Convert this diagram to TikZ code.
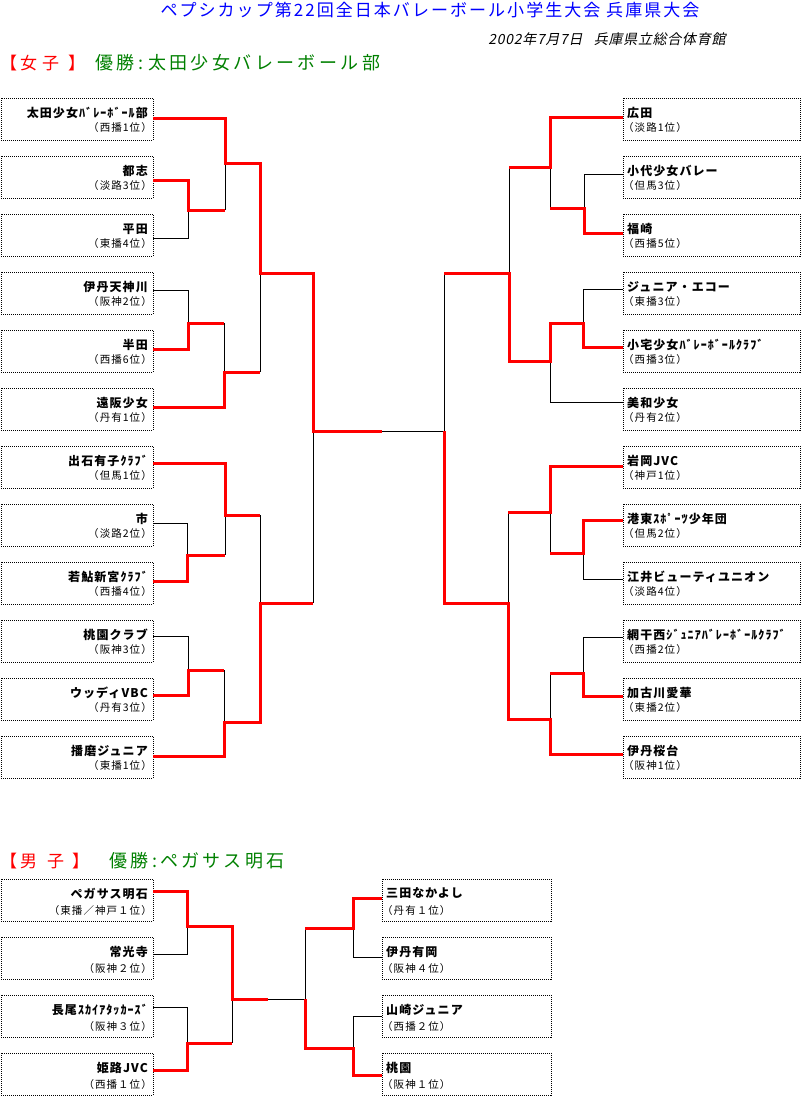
\documentclass[tikz,border=0pt]{standalone}
\usepackage{fontspec}
\setmainfont{Noto Sans CJK JP}
\newfontfamily\fname{Noto Sans CJK JP}[LetterSpace=9]
\newfontfamily\freg{Noto Sans CJK JP}[LetterSpace=10]
\newfontfamily\ftitle{Noto Sans CJK JP}[LetterSpace=12]
\newfontfamily\fsub{Noto Sans CJK JP}[FakeSlant=0.2,LetterSpace=5]
\newfontfamily\fhead{Noto Sans CJK JP}[LetterSpace=19]
\definecolor{wred}{RGB}{255,0,0}
\definecolor{tblue}{RGB}{0,0,255}
\definecolor{tgreen}{RGB}{0,128,0}
\tikzset{
  teambox/.style={draw=black, line width=1pt, dash pattern=on 1pt off 1pt, minimum height=42pt, inner sep=0pt, outer sep=0pt, anchor=north west},
  tname/.style={inner sep=0pt, font=\fname\bfseries\fontsize{12}{14}\selectfont},
  treg/.style={inner sep=0pt, font=\freg\fontsize{10.5}{12}\selectfont},
  win/.style={draw=wred, line width=3pt, line join=miter},
  lose/.style={draw=black, line width=1pt},
  headred/.style={inner sep=0pt, anchor=west, text=wred, font=\fontsize{17}{19}\selectfont},
  headgreen/.style={inner sep=0pt, anchor=west, text=tgreen, font=\fhead\fontsize{18}{20}\selectfont},
}
\def\ny{15}\def\ry{29.5}
\newcommand\teamL[4]{% id, top, name, region
  \node[teambox, minimum width=152pt] (#1) at (1,#2) {};
  \node[tname, anchor=east] (#1n) at ([xshift=-5pt,yshift=-\ny pt]#1.north east) {#3};
  \node[treg, anchor=east] (#1r) at ([xshift=-1pt,yshift=-\ry pt]#1.north east) {#4};}
\newcommand\teamR[5]{% id, x, top, width, name
  \node[teambox, minimum width=#4pt] (#1) at (#2,#3) {};
  \node[tname, anchor=west] (#1n) at ([xshift=4pt,yshift=-\ny pt]#1.north west) {#5};}
\newcommand\regR[2]{\node[treg, anchor=west] (#1r) at ([xshift=0pt,yshift=-\ry pt]#1.north west) {#2};}
\begin{document}
\begin{tikzpicture}[x=1pt,y=-1pt]
\useasboundingbox (0,0) rectangle (801,1096);
% titles
\node[inner sep=0pt, text=tblue, font=\ftitle\fontsize{17}{19}\selectfont] (title) at (430,10) {ペプシカップ第22回全日本バレーボール小学生大会 兵庫県大会};
\node[inner sep=0pt, font=\fsub\fontsize{14}{16}\selectfont] (sub) at (607,39) {2002年7月7日\hspace{0.8em}兵庫県立総合体育館};
\node[headred] (hw) at (0,63) {【\hspace{3pt}女\hspace{5pt}子\hspace{9pt}】};
\node[headgreen] (ww) at (95,63) {優勝:\hspace{5pt}太田少女バレーボール部};
\node[headred] (hm) at (0,861) {【\hspace{3pt}男\hspace{10pt}子\hspace{8pt}】};
\node[headgreen] (wm) at (109,861) {優勝:\hspace{3pt}ペガサス明石};
% women left
\teamL{L1}{98}{太田少女ﾊﾞﾚｰﾎﾞｰﾙ部}{（西播1位）}
\teamL{L2}{156}{都志}{（淡路3位）}
\teamL{L3}{214}{平田}{（東播4位）}
\teamL{L4}{272}{伊丹天神川}{（阪神2位）}
\teamL{L5}{330}{半田}{（西播6位）}
\teamL{L6}{388}{遠阪少女}{（丹有1位）}
\teamL{L7}{446}{出石有子ｸﾗﾌﾞ}{（但馬1位）}
\teamL{L8}{504}{市}{（淡路2位）}
\teamL{L9}{562}{若鮎新宮ｸﾗﾌﾞ}{（西播4位）}
\teamL{L10}{620}{桃園クラブ}{（阪神3位）}
\teamL{L11}{678}{ウッディVBC}{（丹有3位）}
\teamL{L12}{736}{播磨ジュニア}{（東播1位）}
% women right
\teamR{R1}{623}{98}{177}{広田}\regR{R1}{（淡路1位）}
\teamR{R2}{623}{156}{177}{小代少女バレー}\regR{R2}{（但馬3位）}
\teamR{R3}{623}{214}{177}{福崎}\regR{R3}{（西播5位）}
\teamR{R4}{623}{272}{177}{ジュニア・エコー}\regR{R4}{（東播3位）}
\teamR{R5}{623}{330}{177}{小宅少女ﾊﾞﾚｰﾎﾞｰﾙｸﾗﾌﾞ}\regR{R5}{（西播3位）}
\teamR{R6}{623}{388}{177}{美和少女}\regR{R6}{（丹有2位）}
\teamR{R7}{623}{446}{177}{岩岡JVC}\regR{R7}{（神戸1位）}
\teamR{R8}{623}{504}{177}{港東ｽﾎﾟｰﾂ少年団}\regR{R8}{（但馬2位）}
\teamR{R9}{623}{562}{177}{江井ビューティユニオン}\regR{R9}{（淡路4位）}
\teamR{R10}{623}{620}{177}{網干西ｼﾞｭﾆｱﾊﾞﾚｰﾎﾞｰﾙｸﾗﾌﾞ}\regR{R10}{（西播2位）}
\teamR{R11}{623}{678}{177}{加古川愛華}\regR{R11}{（東播2位）}
\teamR{R12}{623}{736}{177}{伊丹桜台}\regR{R12}{（阪神1位）}
% men
\def\ny{14.5}\def\ry{31}
\teamL{M1}{879}{ペガサス明石}{（東播／神戸１位）}
\teamL{M2}{937}{常光寺}{（阪神２位）}
\teamL{M3}{995}{長尾ｽｶｲｱﾀｯｶｰｽﾞ}{（阪神３位）}
\teamL{M4}{1053}{姫路JVC}{（西播１位）}
\teamR{N1}{382}{879}{169}{三田なかよし}\regR{N1}{（丹有１位）}
\teamR{N2}{382}{937}{169}{伊丹有岡}\regR{N2}{（阪神４位）}
\teamR{N3}{382}{995}{169}{山崎ジュニア}\regR{N3}{（西播２位）}
\teamR{N4}{382}{1053}{169}{桃園}\regR{N4}{（阪神１位）}
% ---- women left: losing lines
\draw[lose] ([yshift=-24pt]L3.north east) -- (188,238) -- (188,210);
\draw[lose] (225,163) -- (225,210);
\draw[lose] ([yshift=-18pt]L4.north east) -- (188,290) -- (188,323);
\draw[lose] (224,323) -- (224,372);
\draw[lose] (260,273) -- (260,372);
\draw[lose] ([yshift=-19pt]L8.north east) -- (187,523) -- (187,555);
\draw[lose] (225,515) -- (225,555);
\draw[lose] ([yshift=-16pt]L10.north east) -- (188,636) -- (188,670);
\draw[lose] (224,670) -- (224,722);
\draw[lose] (260,515) -- (260,603);
\draw[lose] (313,431) -- (313,603);
\draw[lose] (382,431) -- (444,431);
% women right: losing lines
\draw[lose] ([yshift=-18pt]R2.north west) -- (584,174) -- (584,208);
\draw[lose] (550,167) -- (550,208);
\draw[lose] (509,167) -- (509,273);
\draw[lose] ([yshift=-17pt]R4.north west) -- (583,289) -- (583,323);
\draw[lose] (550,361) -- (550,402) -- ([yshift=-14pt]R6.north west);
\draw[lose] (444,273) -- (444,431);
\draw[lose] (550,512) -- (550,553);
\draw[lose] (583,553) -- (583,579) -- ([yshift=-17pt]R9.north west);
\draw[lose] ([yshift=-17pt]R10.north west) -- (583,637) -- (583,673);
\draw[lose] (550,673) -- (550,719);
\draw[lose] (508,512) -- (508,603);
% men losing lines
\draw[lose] ([yshift=-17pt]M2.north east) -- (187,954) -- (187,926);
\draw[lose] ([yshift=-12pt]M3.north east) -- (187,1007) -- (187,1043);
\draw[lose] (232,999) -- (232,1043);
\draw[lose] (268,999) -- (305,999);
\draw[lose] (305,928) -- (305,999);
\draw[lose] ([yshift=-20pt]N2.north west) -- (353,957) -- (353,928);
\draw[lose] ([yshift=-21pt]N3.north west) -- (353,1016) -- (353,1048);
% ---- winning lines
\draw[win] ([yshift=-20pt]L1.north east) -- (225,118) -- (225,163) -- (260,163) -- (260,273) -- (313,273) -- (313,431) -- (382,431);
\draw[win] ([yshift=-24pt]L2.north east) -- (188,180) -- (188,210) -- (225,210);
\draw[win] ([yshift=-19pt]L5.north east) -- (188,349) -- (188,323) -- (224,323);
\draw[win] ([yshift=-19pt]L6.north east) -- (224,407) -- (224,372) -- (260,372);
\draw[win] ([yshift=-17pt]L7.north east) -- (225,463) -- (225,515) -- (260,515);
\draw[win] ([yshift=-19pt]L9.north east) -- (187,581) -- (187,555) -- (225,555);
\draw[win] ([yshift=-17pt]L11.north east) -- (188,695) -- (188,670) -- (224,670);
\draw[win] ([yshift=-20pt]L12.north east) -- (224,756) -- (224,722) -- (260,722) -- (260,603) -- (313,603);
\draw[win] ([yshift=-19pt]R1.north west) -- (550,117) -- (550,167) -- (509,167);
\draw[win] ([yshift=-19pt]R3.north west) -- (584,233) -- (584,208) -- (550,208);
\draw[win] ([yshift=-17pt]R5.north west) -- (583,347) -- (583,323) -- (550,323) -- (550,361) -- (509,361) -- (509,273) -- (444,273);
\draw[win] ([yshift=-20pt]R7.north west) -- (550,466) -- (550,512) -- (508,512);
\draw[win] ([yshift=-16pt]R8.north west) -- (583,520) -- (583,553) -- (550,553);
\draw[win] ([yshift=-18pt]R11.north west) -- (583,696) -- (583,673) -- (550,673);
\draw[win] ([yshift=-18pt]R12.north west) -- (550,754) -- (550,719) -- (508,719) -- (508,603) -- (444,603) -- (444,431);
\draw[win] ([yshift=-12pt]M1.north east) -- (187,891) -- (187,926) -- (232,926) -- (232,999) -- (268,999);
\draw[win] ([yshift=-17pt]M4.north east) -- (187,1070) -- (187,1043) -- (232,1043);
\draw[win] ([yshift=-19pt]N1.north west) -- (353,898) -- (353,928) -- (305,928);
\draw[win] ([yshift=-22pt]N4.north west) -- (353,1075) -- (353,1048) -- (305,1048) -- (305,999);
\end{tikzpicture}
\end{document}
